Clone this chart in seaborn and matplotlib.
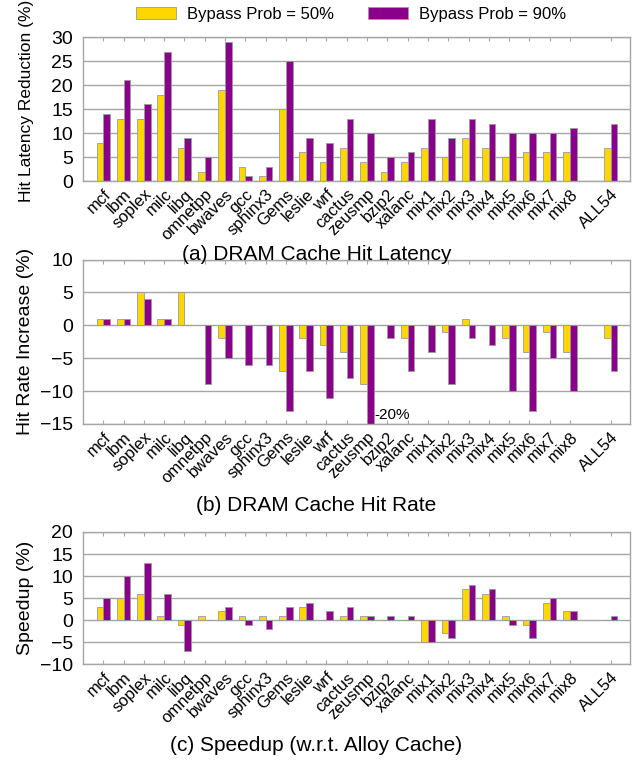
import pandas as pd
import matplotlib
matplotlib.use("Agg")
import matplotlib.pyplot as plt
import seaborn as sns

# benchmarks (blank slot before ALL54)
benchmarks = ["mcf", "lbm", "soplex", "milc", "libq", "omnetpp", "bwaves", "gcc",
              "sphinx3", "Gems", "leslie", "wrf", "cactus", "zeusmp", "bzip2", "xalanc",
              "mix1", "mix2", "mix3", "mix4", "mix5", "mix6", "mix7", "mix8", " ", "ALL54"]
series = ["Bypass Prob = 50%", "Bypass Prob = 90%"]

# (a) hit latency reduction
lat_50 = [8, 13, 13, 18, 7, 2, 19, 3, 1, 15, 6, 4, 7, 4, 2, 4, 7, 5, 9, 7, 5, 6, 6, 6, None, 7]
lat_90 = [14, 21, 16, 27, 9, 5, 29, 1, 3, 25, 9, 8, 13, 10, 5, 6, 13, 9, 13, 12, 10, 10, 10, 11, None, 12]

# (b) hit rate increase
hr_50 = [1, 1, 5, 1, 5, 0, -2, 0, 0, -7, -2, -3, -4, -9, 0, -2, 0, -1, 1, 0, -2, -4, -1, -4, None, -2]
hr_90 = [1, 1, 4, 1, 0, -9, -5, -6, -6, -13, -7, -11, -8, -20, -2, -7, -4, -9, -2, -3, -10, -13, -5, -10, None, -7]

# (c) speedup wrt alloy cache
sp_50 = [3, 5, 6, 1, -1, 1, 2, 1, 1, 1, 3, 0, 1, 1, 0, 0, -5, -3, 7, 6, 1, -1, 4, 2, None, 0]
sp_90 = [5, 10, 13, 6, -7, 0, 3, -1, -2, 3, 4, 2, 3, 1, 1, 1, -5, -4, 8, 7, -1, -4, 5, 2, None, 1]

colors = ["#FFD700", "#8B008B"]
grid_c = "#a6a6a6"

plt.rcParams["font.family"] = ["Liberation Sans", "DejaVu Sans"]


def long_df(a, b):
    rows = []
    for name, vals in zip(series, [a, b]):
        for bm, v in zip(benchmarks, vals):
            rows.append({"bench": bm, "series": name, "value": v})
    return pd.DataFrame(rows)


fig = plt.figure(figsize=(6.33, 7.61), dpi=100)

panels = [
    (lat_50, lat_90, [0.131, 0.762, 0.864, 0.189], (0, 30), 5, "Hit Latency Reduction (%)",
     12.5, 0.56, "(a) DRAM Cache Hit Latency", 0.665),
    (hr_50, hr_90, [0.131, 0.443, 0.864, 0.216], (-15, 10), 5, "Hit Rate Increase (%)",
     14, 0.5, "(b) DRAM Cache Hit Rate", 0.336),
    (sp_50, sp_90, [0.131, 0.127, 0.864, 0.174], (-10, 20), 5, "Speedup (%)",
     14, 0.5, "(c) Speedup (w.r.t. Alloy Cache)", 0.021),
]

for i, (a, b, rect, ylim, step, ylabel, yl_fs, yl_y, caption, cap_y) in enumerate(panels):
    ax = fig.add_axes(rect)
    df = long_df(a, b)
    sns.barplot(data=df, x="bench", y="value", hue="series", order=benchmarks,
                hue_order=series, palette=colors, width=0.66, edgecolor="#9a9a9a",
                linewidth=0.6, saturation=1, ax=ax, legend=(i == 0))
    ax.set_ylim(*ylim)
    ax.set_xlim(-1.0, 25.95)
    ax.set_yticks(range(ylim[0], ylim[1] + 1, step))
    ax.yaxis.grid(True, color=grid_c, linewidth=1)
    ax.set_axisbelow(True)
    for s in ax.spines.values():
        s.set_color(grid_c)
        s.set_linewidth(1)
    pos = [k for k, bm in enumerate(benchmarks) if bm.strip()]
    ax.set_xticks(pos)
    ax.set_xticklabels([benchmarks[k] for k in pos], rotation=45, ha="right",
                       rotation_mode="anchor", fontsize=12)
    ax.tick_params(axis="x", direction="in", top=True, bottom=True, length=3,
                   color=grid_c, pad=4)
    ax.tick_params(axis="y", length=0, labelsize=14, pad=7)
    ax.set_xlabel("")
    ax.set_ylabel(ylabel, fontsize=yl_fs)
    ax.yaxis.set_label_coords(-0.09, yl_y)
    fig.text(0.5, cap_y, caption, ha="center", va="center", fontsize=15)
    if i == 0:
        ax.legend(loc="center", bbox_to_anchor=(0.49, 1.16), ncol=2,
                  frameon=False, fontsize=12, handlelength=2.45, handleheight=0.7,
                  handletextpad=0.65, columnspacing=2.0)
    if i == 1:
        zi = benchmarks.index("zeusmp")
        ax.text(zi + 0.35, -13.6, "-20%", fontsize=11, ha="left", va="center")

fig.savefig("out.png", dpi=100)
